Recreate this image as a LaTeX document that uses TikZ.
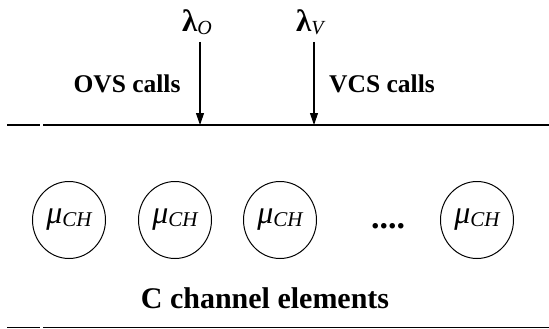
\documentclass[tikz,border=0pt]{standalone}
\usepackage{fontspec}
\setmainfont{Liberation Serif}
\usetikzlibrary{arrows.meta,shapes.geometric}
\newcommand\muCH{{\fontsize{32}{32}\selectfont\itshape μ}\raisebox{-0.22em}{\fontsize{21}{21}\selectfont\itshape CH}}
\newcommand\lamsub[1]{{\fontsize{31}{31}\selectfont\bfseries λ}\raisebox{-0.25em}{\fontsize{20}{20}\selectfont\itshape #1}}
\begin{document}
\begin{tikzpicture}[x=1pt,y=-1pt,
  chan/.style={ellipse,draw,line width=1pt,minimum width=73pt,minimum height=77pt,inner sep=0pt},
  lbl/.style={font=\fontsize{25.5}{26}\selectfont\bfseries,inner sep=0pt},
  rail/.style={line width=1.8pt},
  arr/.style={line width=1.1pt,-{Triangle[length=12pt,width=8pt]}}]
\useasboundingbox (0,0) rectangle (549,329);
% top rail
\coordinate (t0) at (7,125);
\coordinate (t1) at (40,125);
\coordinate (t2) at (43,125);
\coordinate (t3) at (551,125);
\draw[rail] (t0) -- (t1);
\draw[rail] (t2) -- (t3);
% bottom rail
\coordinate (b0) at (7,327.5);
\coordinate (b1) at (40,327.5);
\coordinate (b2) at (43,327.5);
\coordinate (b3) at (551,327.5);
\draw[rail] (b0) -- (b1);
\draw[rail] (b2) -- (b3);
% arrivals
\node[inner sep=0pt,anchor=base west] (lo) at (182,32) {\lamsub{O}};
\node[inner sep=0pt,anchor=base west] (lv) at (296,32) {\lamsub{V}};
\coordinate (ao) at (200,42);
\coordinate (ho) at (200,125);
\coordinate (av) at (314,42);
\coordinate (hv) at (314,125);
\draw[arr] (ao) -- (ho);
\draw[arr] (av) -- (hv);
\node[lbl] (ovs) at (127,84) {OVS calls};
\node[lbl] (vcs) at (382,84) {VCS calls};
% channel elements
\node[chan] (c1) at (69,220) {\muCH};
\node[chan] (c2) at (175,220) {\muCH};
\node[chan] (c3) at (280,220) {\muCH};
\node[inner sep=0pt,font=\fontsize{34}{34}\selectfont\bfseries,anchor=base] (dots) at (388,228) {....};
\node[chan] (c4) at (477,220) {\muCH};
\node[inner sep=0pt,font=\fontsize{30}{30}\selectfont\bfseries,anchor=base] (ce) at (265,308) {C channel elements};
\end{tikzpicture}
\end{document}
